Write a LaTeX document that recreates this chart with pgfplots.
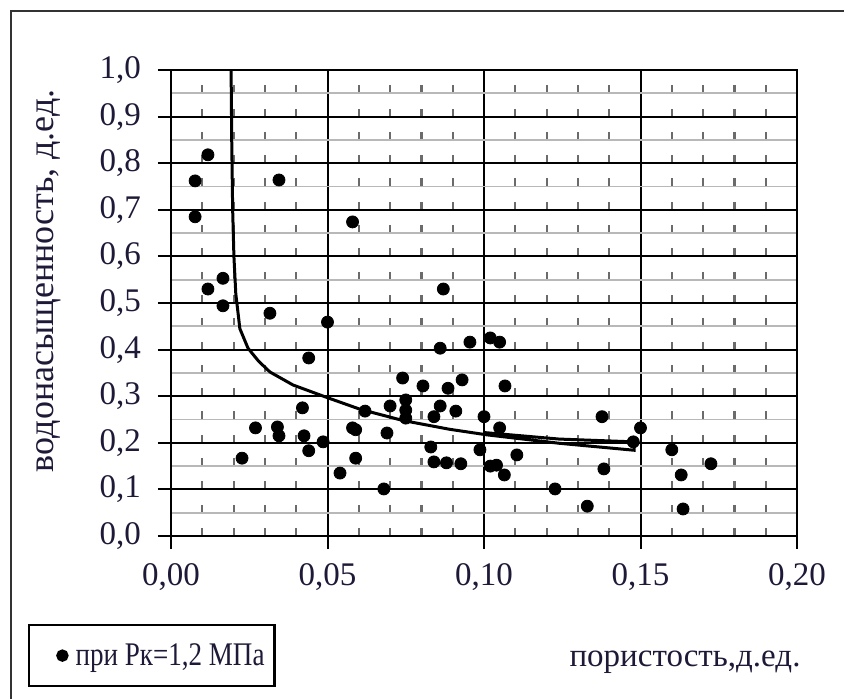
\documentclass[border=0pt]{standalone}
\usepackage{fontspec}
\setmainfont{Liberation Serif}
\usepackage{graphicx}
\usepackage{pgfplots}
\pgfplotsset{compat=1.18}
\definecolor{txt}{rgb}{0.12,0.10,0.22}
\definecolor{minorgrid}{rgb}{0.72,0.72,0.72}
\definecolor{dashgrid}{rgb}{0.42,0.42,0.42}

\pgfplotstableread{
x y
0.0077 0.762
0.0118 0.818
0.0077 0.685
0.0118 0.530
0.0166 0.553
0.0166 0.494
0.0345 0.764
0.0580 0.674
0.0870 0.530
0.0316 0.478
0.0500 0.459
0.0440 0.382
0.0860 0.403
0.0955 0.416
0.1020 0.425
0.1050 0.416
0.0740 0.339
0.0805 0.322
0.0885 0.317
0.0930 0.335
0.1067 0.322
0.0420 0.275
0.0700 0.279
0.0750 0.292
0.0750 0.270
0.0750 0.253
0.0860 0.279
0.0840 0.256
0.0910 0.268
0.1000 0.256
0.1050 0.232
0.0620 0.268
0.0270 0.232
0.0340 0.234
0.0345 0.215
0.0425 0.215
0.0440 0.183
0.0486 0.202
0.0580 0.232
0.0590 0.228
0.0590 0.167
0.0540 0.135
0.0227 0.167
0.0690 0.221
0.0680 0.101
0.0830 0.191
0.0840 0.159
0.0880 0.157
0.0926 0.155
0.0987 0.185
0.1020 0.150
0.1040 0.152
0.1065 0.131
0.1105 0.174
0.1227 0.101
0.1330 0.064
0.1377 0.256
0.1383 0.144
0.1477 0.202
0.1500 0.232
0.1600 0.185
0.1630 0.131
0.1636 0.058
0.1725 0.155
}\points

\begin{document}
\begin{tikzpicture}
\useasboundingbox (-85.5pt,-81.5pt) rectangle (336.5pt,268pt);
\draw[line width=1.3pt, black!80] (-80pt,-95pt) -- (-80pt,262.5pt) -- (350pt,262.5pt);
\begin{axis}[
  at={(0pt,0pt)}, anchor=south west,
  scale only axis, width=313pt, height=233pt,
  xmin=0, xmax=0.2, ymin=0, ymax=1,
  xtick={0,0.05,0.1,0.15,0.2},
  ytick={0,0.1,0.2,0.3,0.4,0.5,0.6,0.7,0.8,0.9,1.0},
  minor xtick={0.01,0.02,0.03,0.04,0.06,0.07,0.08,0.09,0.11,0.12,0.13,0.14,0.16,0.17,0.18,0.19},
  minor ytick={0.05,0.15,0.25,0.35,0.45,0.55,0.65,0.75,0.85,0.95},
  xtick pos=bottom, ytick pos=left,
  tick align=outside, major tick length=6.5pt, minor tick length=0pt,
  tick style={black, line width=1pt},
  grid=both,
  major grid style={black, line width=1pt},
  minor y grid style={minorgrid, line width=0.9pt},
  minor x grid style={dashgrid, line width=1.1pt, dash pattern=on 4pt off 7.65pt},
  axis line style={black, line width=1pt},
  /pgf/number format/assume math mode=true,
  tick label style={font=\fontsize{16.5}{18}\selectfont, text=txt},
  xticklabel style={yshift=-3.5pt, /pgf/number format/.cd, fixed, fixed zerofill, precision=2, use comma},
  yticklabel style={xshift=-5pt, /pgf/number format/.cd, fixed, fixed zerofill, precision=1, use comma},
  xlabel={пористость,д.ед.},
  xlabel style={at={(axis description cs:0.8211,-0.281)}, anchor=base,
    font=\fontsize{16.5}{18}\selectfont, text=txt},
  ylabel={водонасыщенность, д.ед.},
  ylabel style={at={(axis description cs:-0.196,0.548)}, anchor=center,
    font=\fontsize{18}{20}\selectfont, text=txt},
  legend style={at={(axis description cs:-0.2284,-0.1888)}, anchor=north west,
    draw=black, line width=1.2pt, inner xsep=3pt, inner ysep=7pt,
    font=\fontsize{16.5}{18}\selectfont, text=txt},
  legend cell align=left,
]
\addplot[black, line width=1.5pt, forget plot] coordinates {
  (0.0192,1.0)(0.0194,0.85)(0.0197,0.70)(0.0201,0.60)(0.0207,0.52)
  (0.0220,0.445)(0.0246,0.403)(0.0280,0.375)(0.0316,0.352)(0.0390,0.324)
  (0.0495,0.298)(0.0604,0.272)(0.0740,0.248)(0.0890,0.229)(0.1010,0.217)
  (0.1240,0.199)(0.1480,0.184)(0.1480,0.202)(0.1240,0.208)(0.1000,0.222)};
\addplot[only marks, mark=*, mark size=3pt, black,
  legend image code/.code={\path (-13pt,0pt) (4pt,0pt); \fill[black] (0pt,0pt) circle (2.5pt);}]
  table {\points};
\addlegendentry{\scalebox{0.82}[1]{при Рк=1,2 МПа}}
\end{axis}
\end{tikzpicture}
\end{document}
